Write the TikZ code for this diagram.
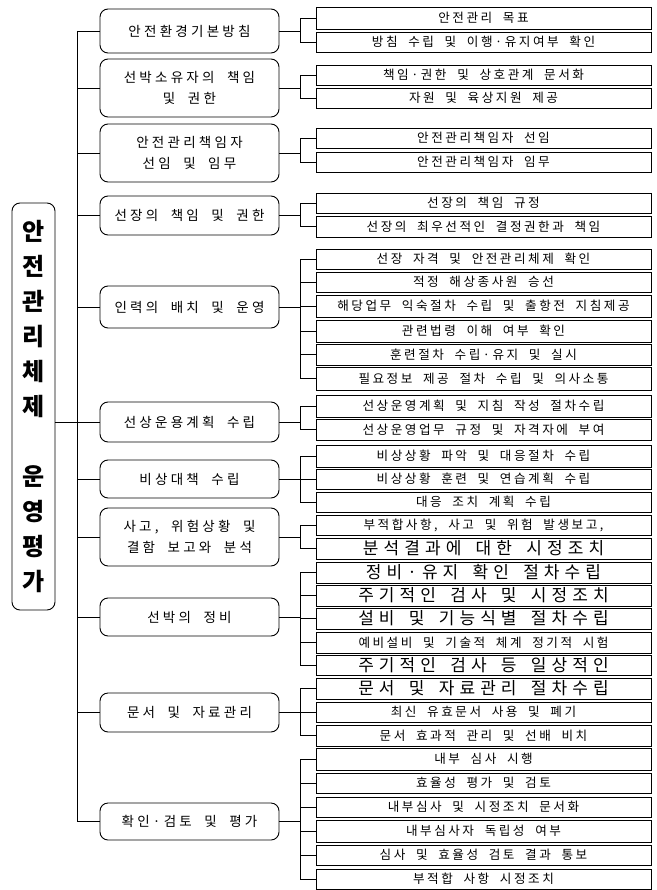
\documentclass[tikz,border=0pt]{standalone}
\usepackage{fontspec}
\newfontfamily\krleaf[LetterSpace=20,WordSpace=2]{Noto Sans CJK KR}
\newfontfamily\krmid[LetterSpace=24,WordSpace=2]{Noto Sans CJK KR}
\newfontfamily\krlarge[LetterSpace=30,WordSpace=1.6]{Noto Sans CJK KR}
\newfontfamily\krtitle{Noto Sans CJK KR}
\newcommand\leafnode[5]{\node[#1, minimum height={#4-#3}] (#2) at (483.5,{(#3+#4)/2}) {#5};}
\newcommand\midnode[4]{\node[midbox, minimum height={#3-#2}] (#1) at (189.5,{(#2+#3)/2}) {#4};}
\begin{document}
\begin{tikzpicture}[x=1pt,y=-1pt,
  leaf/.style={draw, line width=0.9pt, minimum width=335pt, inner sep=0pt, font=\krleaf\fontsize{12.6}{14}\selectfont},
  bigleaf/.style={leaf, font=\krlarge\fontsize{17}{19}\selectfont},
  midbox/.style={draw, line width=0.9pt, rounded corners=8pt, minimum width=179pt, inner sep=0pt, align=center, font=\krmid\fontsize{13.5}{21}\selectfont},
  conn/.style={line width=0.9pt}]
\useasboundingbox[fill=white] (0,0) rectangle (656,890);

% title box
\node[draw, line width=0.9pt, rounded corners=8pt, minimum width=43pt, minimum height=407pt, inner sep=0pt, align=center, font=\krtitle\bfseries\fontsize{24}{35}\selectfont] (big) at (33.5,406.5) {안\\전\\관\\리\\체\\제\\[35pt]운\\영\\평\\가};

% middle boxes
\midnode{m1}{9}{53}{안전환경기본방침}
\midnode{m2}{59}{117}{선박소유자의 책임\\및 권한}
\midnode{m3}{124}{182}{안전관리책임자\\선임 및 임무}
\midnode{m4}{196}{235}{선장의 책임 및 권한}
\midnode{m5}{286}{328}{인력의 배치 및 운영}
\midnode{m6}{402}{442}{선상운용계획 수립}
\midnode{m7}{460}{498}{비상대책 수립}
\midnode{m8}{508}{566}{사고, 위험상황 및\\결함 보고와 분석}
\midnode{m9}{598}{636}{선박의 정비}
\midnode{m10}{693}{732}{문서 및 자료관리}
\midnode{m11}{803}{840}{확인·검토 및 평가}

% leaves
\leafnode{leaf}{l1}{7}{29}{안전관리 목표}
\leafnode{leaf}{l2}{32}{52}{방침 수립 및 이행·유지여부 확인}
\leafnode{leaf}{l3}{65}{85}{책임·권한 및 상호관계 문서화}
\leafnode{leaf}{l4}{88}{108}{자원 및 육상지원 제공}
\leafnode{leaf}{l5}{128}{148}{안전관리책임자 선임}
\leafnode{leaf}{l6}{152}{172}{안전관리책임자 임무}
\leafnode{leaf}{l7}{193}{213}{선장의 책임 규정}
\leafnode{leaf}{l8}{216}{237}{선장의 최우선적인 결정권한과 책임}
\leafnode{leaf}{l9}{249}{269}{선장 자격 및 안전관리체제 확인}
\leafnode{leaf}{l10}{272}{292}{적정 해상종사원 승선}
\leafnode{leaf}{l11}{295}{317}{해당업무 익숙절차 수립 및 출항전 지침제공}
\leafnode{leaf}{l12}{320}{342}{관련법령 이해 여부 확인}
\leafnode{leaf}{l13}{344}{365}{훈련절차 수립·유지 및 실시}
\leafnode{leaf}{l14}{367}{390}{필요정보 제공 절차 수립 및 의사소통}
\leafnode{leaf}{l15}{395}{417}{선상운영계획 및 지침 작성 절차수립}
\leafnode{leaf}{l16}{419}{440}{선상운영업무 규정 및 자격자에 부여}
\leafnode{leaf}{l17}{445}{467}{비상상황 파악 및 대응절차 수립}
\leafnode{leaf}{l18}{469}{489}{비상상황 훈련 및 연습계획 수립}
\leafnode{leaf}{l19}{492}{512}{대응 조치 계획 수립}
\leafnode{leaf}{l20}{515}{535}{부적합사항, 사고 및 위험 발생보고,}
\leafnode{bigleaf}{l21}{538}{559}{분석결과에 대한 시정조치}
\leafnode{bigleaf}{l22}{562}{583}{정비·유지 확인 절차수립}
\leafnode{bigleaf}{l23}{585}{606}{주기적인 검사 및 시정조치}
\leafnode{bigleaf}{l24}{608}{629}{설비 및 기능식별 절차수립}
\leafnode{leaf}{l25}{632}{653}{예비설비 및 기술적 체계 정기적 시험}
\leafnode{bigleaf}{l26}{655}{675}{주기적인 검사 등 일상적인}
\leafnode{bigleaf}{l27}{678}{699}{문서 및 자료관리 절차수립}
\leafnode{leaf}{l28}{702}{722}{최신 유효문서 사용 및 폐기}
\leafnode{leaf}{l29}{725}{746}{문서 효과적 관리 및 선배 비치}
\leafnode{leaf}{l30}{748}{770}{내부 심사 시행}
\leafnode{leaf}{l31}{773}{793}{효율성 평가 및 검토}
\leafnode{leaf}{l32}{797}{817}{내부심사 및 시정조치 문서화}
\leafnode{leaf}{l33}{820}{842}{내부심사자 독립성 여부}
\leafnode{leaf}{l34}{845}{865}{심사 및 효율성 검토 결과 통보}
\leafnode{leaf}{l35}{869}{889}{부적합 사항 시정조치}

% spine
\coordinate (sp) at (77,0);
\draw[conn] (m1.west -| sp) -- (m11.west -| sp);
\foreach \m in {m1,m2,m3,m4,m5,m6,m7,m8,m9,m10,m11}
  \draw[conn] (\m.west) -- (\m.west -| sp);
\draw[conn] (big.east |- m6.west) -- (m6.west -| sp);

% brackets
\draw[conn] (m1.east) -- ++(21,0) coordinate (b1);
\foreach \l in {l1,l2} \draw[conn] (\l.west) -| (b1);
\draw[conn] (m2.east) -- ++(21,0) coordinate (b2);
\foreach \l in {l3,l4} \draw[conn] (\l.west) -| (b2);
\draw[conn] (m3.east) -- ++(21,0) coordinate (b3);
\foreach \l in {l5,l6} \draw[conn] (\l.west) -| (b3);
\draw[conn] (m4.east) -- ++(21,0) coordinate (b4);
\foreach \l in {l7,l8} \draw[conn] (\l.west) -| (b4);
\draw[conn] (m5.east) -- ++(21,0) coordinate (b5);
\foreach \l in {l9,l10,l11,l12,l13,l14} \draw[conn] (\l.west) -| (b5);
\draw[conn] (m6.east) -- ++(21,0) coordinate (b6);
\foreach \l in {l15,l16} \draw[conn] (\l.west) -| (b6);
\draw[conn] (m7.east) -- ++(21,0) coordinate (b7);
\foreach \l in {l17,l18,l19} \draw[conn] (\l.west) -| (b7);
\draw[conn] (m8.east) -- ++(21,0) coordinate (b8);
\foreach \l in {l20,l21} \draw[conn] (\l.west) -| (b8);
\draw[conn] (m9.east) -- ++(21,0) coordinate (b9);
\foreach \l in {l22,l23,l24,l25,l26} \draw[conn] (\l.west) -| (b9);
\draw[conn] (m10.east) -- ++(21,0) coordinate (b10);
\foreach \l in {l27,l28,l29} \draw[conn] (\l.west) -| (b10);
\draw[conn] (m11.east) -- ++(21,0) coordinate (b11);
\foreach \l in {l30,l31,l32,l33,l34,l35} \draw[conn] (\l.west) -| (b11);
\end{tikzpicture}
\end{document}
